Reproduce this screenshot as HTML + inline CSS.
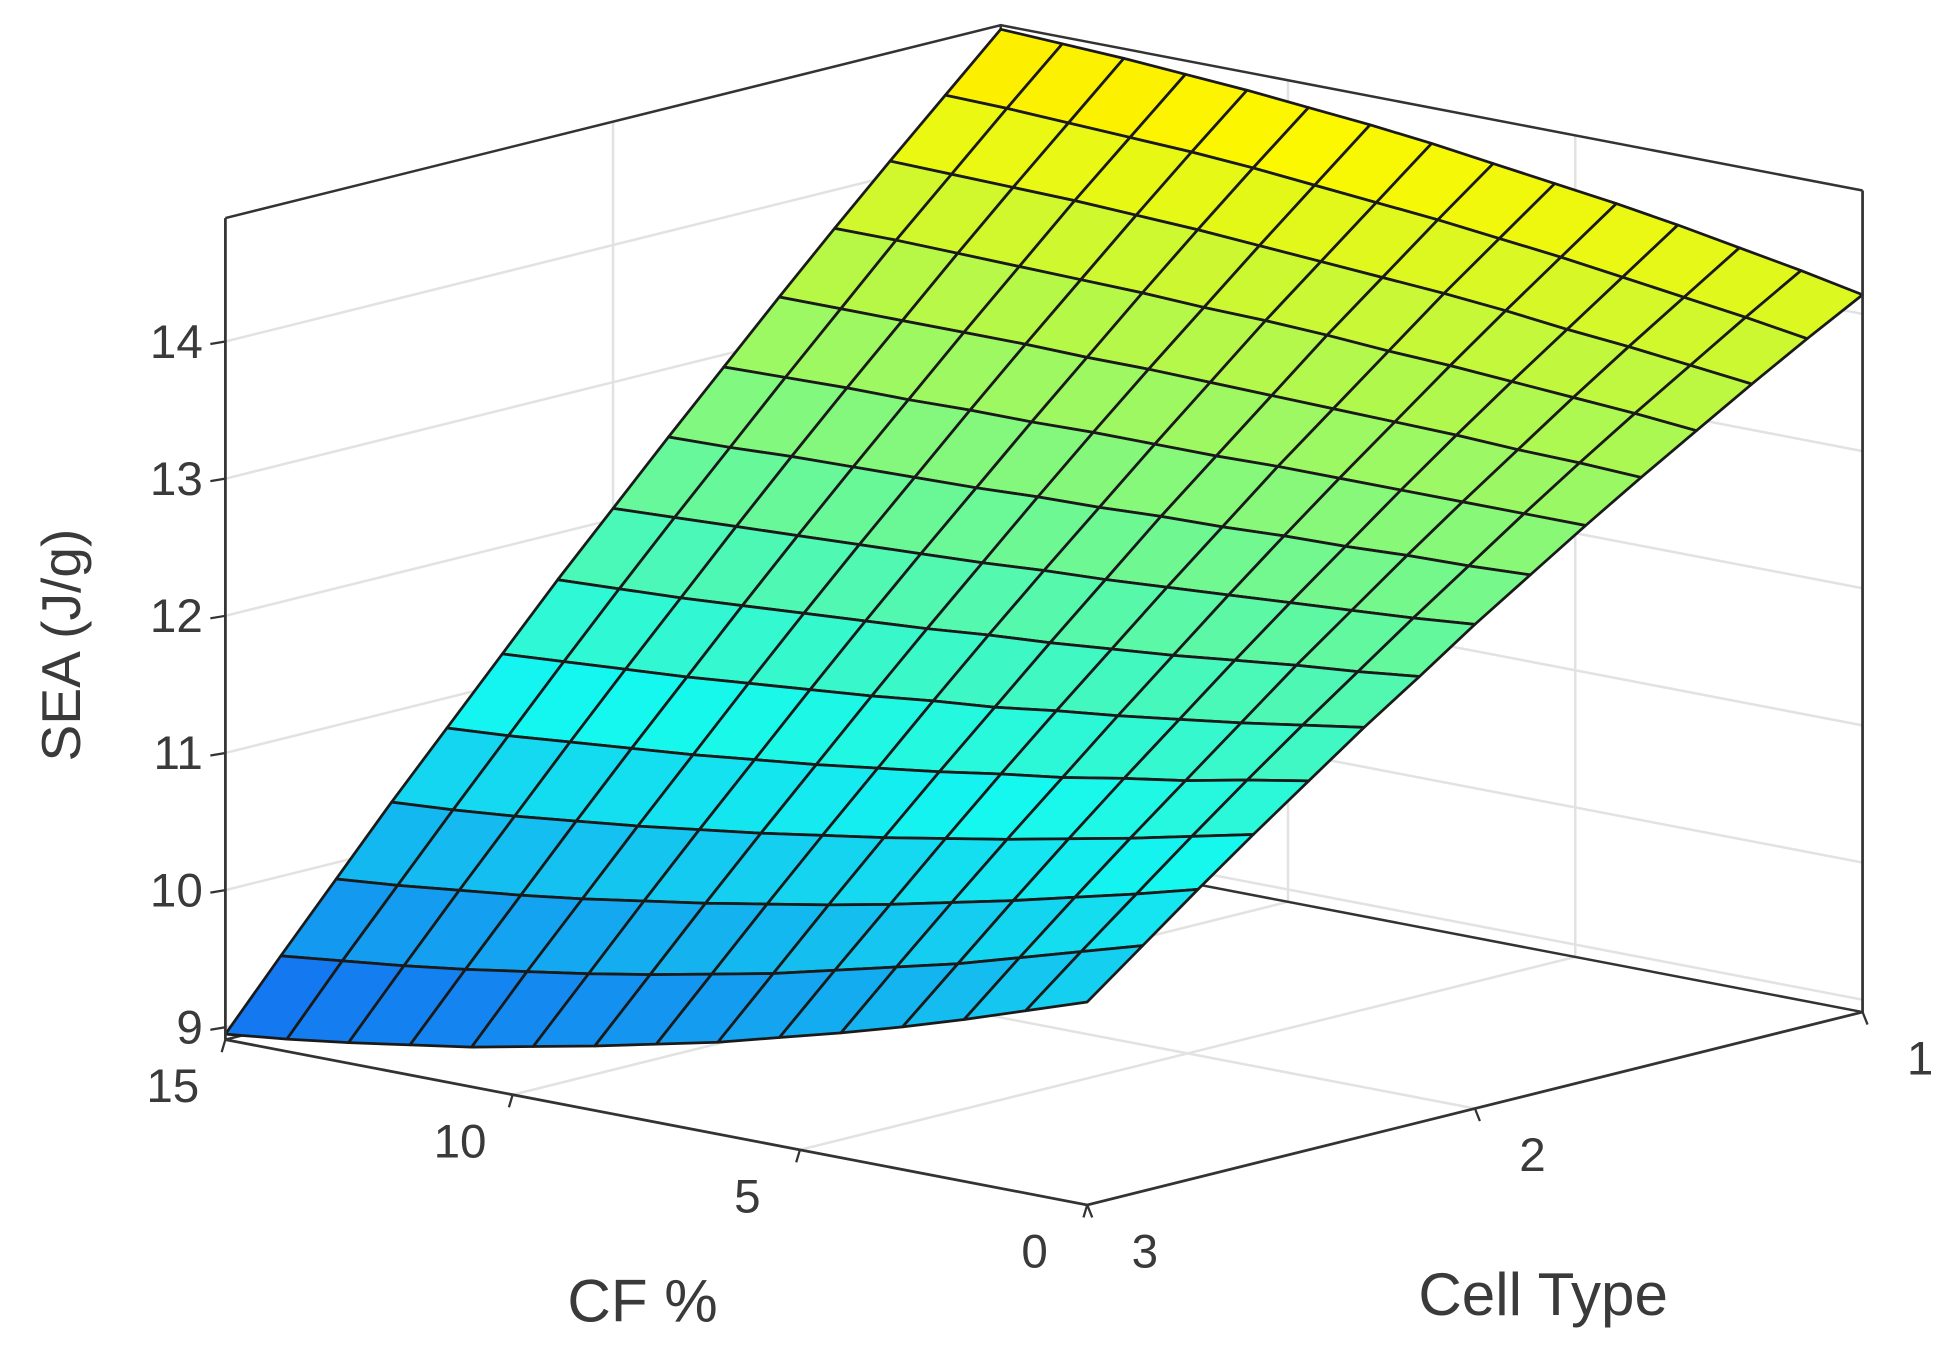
<!DOCTYPE html>
<html>
<head>
<meta charset="utf-8">
<style>
html,body{margin:0;padding:0;background:#fff;}
svg{display:block;}
text{font-family:"Liberation Sans",Arial,sans-serif;fill:#3a3a3a;}
</style>
</head>
<body>
<svg id="chart" width="1954" height="1354" viewBox="0 0 1560 1081" preserveAspectRatio="none" xmlns="http://www.w3.org/2000/svg">
  <g id="walls"></g>
  <g id="surface"></g>
  <g id="frame"></g>
  <g id="labels">
    <text x="513" y="1055" font-size="48" text-anchor="middle">CF %</text>
    <text x="1232" y="1050" font-size="48" text-anchor="middle">Cell Type</text>
    <text x="64" y="515" font-size="44" text-anchor="middle" transform="rotate(-90 64 515)">SEA (J/g)</text>
  </g>
</svg>
<script>
// ---- data ----
const cfValues = [0,1.0714,2.1429,3.2143,4.2857,5.3571,6.4286,7.5,8.5714,9.6429,10.7143,11.7857,12.8571,13.9286,15];
const cellValues = [3,2.8571,2.7143,2.5714,2.4286,2.2857,2.1429,2,1.8571,1.7143,1.5714,1.4286,1.2857,1.1429,1];
const seaRow0  = [10.39,10.24,10.09,9.95,9.82,9.70,9.58,9.48,9.38,9.29,9.20,9.13,9.06,9.00,8.95];
const seaRow1  = [10.70,10.57,10.44,10.31,10.20,10.09,9.98,9.89,9.80,9.72,9.65,9.58,9.52,9.47,9.42];
const seaRow2  = [11.01,10.89,10.78,10.67,10.57,10.47,10.38,10.30,10.22,10.15,10.08,10.02,9.97,9.92,9.88];
const seaRow3  = [11.31,11.21,11.11,11.02,10.93,10.85,10.77,10.70,10.63,10.57,10.51,10.46,10.41,10.37,10.34];
const seaRow4  = [11.60,11.52,11.43,11.36,11.28,11.22,11.15,11.09,11.03,10.98,10.93,10.89,10.85,10.81,10.78];
const seaRow5  = [11.89,11.82,11.75,11.69,11.63,11.58,11.52,11.48,11.43,11.39,11.35,11.31,11.28,11.25,11.22];
const seaRow6  = [12.16,12.11,12.07,12.02,11.97,11.93,11.89,11.86,11.82,11.79,11.76,11.73,11.70,11.68,11.66];
const seaRow7  = [12.44,12.40,12.37,12.34,12.31,12.28,12.25,12.23,12.20,12.18,12.16,12.14,12.12,12.10,12.08];
const seaRow8  = [12.70,12.68,12.67,12.65,12.64,12.62,12.61,12.59,12.58,12.56,12.55,12.54,12.53,12.51,12.50];
const seaRow9  = [12.96,12.96,12.96,12.96,12.96,12.96,12.95,12.95,12.95,12.94,12.94,12.93,12.93,12.92,12.91];
const seaRow10 = [13.21,13.23,13.24,13.26,13.27,13.28,13.29,13.30,13.31,13.31,13.32,13.32,13.32,13.32,13.32];
const seaRow11 = [13.45,13.49,13.52,13.55,13.58,13.60,13.63,13.65,13.66,13.68,13.69,13.70,13.71,13.72,13.72];
const seaRow12 = [13.69,13.74,13.79,13.83,13.88,13.92,13.95,13.98,14.01,14.04,14.06,14.08,14.09,14.10,14.11];
const seaRow13 = [13.92,13.99,14.05,14.11,14.17,14.22,14.27,14.31,14.35,14.39,14.42,14.44,14.46,14.48,14.49];
const seaRow14 = [14.14,14.23,14.31,14.39,14.46,14.52,14.58,14.64,14.69,14.73,14.77,14.80,14.83,14.85,14.87];
const zTicks = [9,10,11,12,13,14];
const cfTicks = [0,5,10,15];
const cellTicks = [1,2,3];
const zMin = 8.91, zMax = 14.9;

const seaGrid = [seaRow0,seaRow1,seaRow2,seaRow3,seaRow4,seaRow5,seaRow6,seaRow7,seaRow8,seaRow9,seaRow10,seaRow11,seaRow12,seaRow13,seaRow14];

// ---- projection ----
function P(cf, cell, z){
  const t = 3 - cell;
  return [868 - 45.87*cf + 309.5*t, 962 - 8.8*cf - 77*t - (z - zMin)*109.5];
}
const NS = "http://www.w3.org/2000/svg";
function mk(tag, attrs, parent){
  const e = document.createElementNS(NS, tag);
  for (const k in attrs) e.setAttribute(k, attrs[k]);
  parent.appendChild(e);
  return e;
}
function pts(arr){ return arr.map(p => p[0].toFixed(2)+","+p[1].toFixed(2)).join(" "); }
function jet(x){
  const c = v => Math.max(0, Math.min(1, v));
  const r = c(Math.min(4*x-1.5, -4*x+4.5));
  const g = c(Math.min(4*x-0.5, -4*x+3.5));
  const b = c(Math.min(4*x+0.5, -4*x+2.5));
  return "rgb("+Math.round(20+r*232)+","+Math.round(10+g*238)+","+Math.round(b*240)+")";
}

const walls = document.getElementById('walls');
const surf = document.getElementById('surface');
const frame = document.getElementById('frame');
const labels = document.getElementById('labels');
const gridCol = "#e2e2e2";

zTicks.forEach(z => {
  const a = P(15,3,z), b = P(15,1,z), c = P(0,1,z);
  const l = mk('polyline', {points: pts([a,b,c]), fill:'none', stroke:gridCol, 'stroke-width':2}, walls);
  
  
});
cellTicks.forEach(cl => {
  if (cl === 1 || cl === 3) return;
  const l = mk('polyline', {points: pts([P(0,cl,zMin), P(15,cl,zMin), P(15,cl,zMax)]), fill:'none', stroke:gridCol, 'stroke-width':2}, walls);
  
  
});
cfTicks.forEach(cf => {
  if (cf === 0 || cf === 15) return;
  const l = mk('polyline', {points: pts([P(cf,3,zMin), P(cf,1,zMin), P(cf,1,zMax)]), fill:'none', stroke:gridCol, 'stroke-width':2}, walls);
  
  
});
const backEdges = [
  [P(15,3,zMax), P(15,1,zMax), P(0,1,zMax)],
  [P(15,3,zMin), P(15,1,zMin), P(0,1,zMin)],
  [P(15,1,zMin), P(15,1,zMax)]
];
backEdges.forEach((e, k) => {
  const l = mk('polyline', {points: pts(e), fill:'none', stroke:'#333', 'stroke-width':2}, walls);
  
  
});

const patches = [];
for (let i = 0; i < cellValues.length - 1; i++){
  for (let j = 0; j < cfValues.length - 1; j++){
    const z00 = seaGrid[i][j], z01 = seaGrid[i][j+1], z10 = seaGrid[i+1][j], z11 = seaGrid[i+1][j+1];
    const corners = [P(cfValues[j],cellValues[i],z00), P(cfValues[j+1],cellValues[i],z01),
                     P(cfValues[j+1],cellValues[i+1],z11), P(cfValues[j],cellValues[i+1],z10)];
    const zAvg = (z00+z01+z10+z11)/4;
    const depth = (cfValues[j]+cfValues[j+1])/30 + ((3-cellValues[i])+(3-cellValues[i+1]))/4;
    patches.push({i, j, corners, zAvg, depth});
  }
}
patches.sort((a,b) => b.depth - a.depth);
patches.forEach(p => {
  const t = (p.zAvg - zMin)/(zMax - zMin);
  const poly = mk('polygon', {points: pts(p.corners), fill: jet(0.22 + t*0.43), stroke:'#1a1a1a', 'stroke-width':2.2, 'stroke-linejoin':'round'}, surf);
  
  
});

const frontEdges = [
  [P(15,3,zMin), P(15,3,zMax)],
  [P(15,3,zMin), P(0,3,zMin), P(0,1,zMin), P(0,1,zMax)]
];
frontEdges.forEach((e, k) => {
  const l = mk('polyline', {points: pts(e), fill:'none', stroke:'#333', 'stroke-width':2.2}, frame);
  
  
});

zTicks.forEach(z => {
  const p = P(15,3,z);
  const tk = mk('line', {x1:p[0], y1:p[1], x2:p[0]-12, y2:p[1]+2, stroke:'#333', 'stroke-width':1.8}, frame);
  
  
  const tx = mk('text', {x:p[0]-18, y:p[1]+13, 'font-size':38, 'text-anchor':'end'}, labels);
  tx.textContent = z;
  
  
});
cfTicks.forEach(cf => {
  const p = P(cf,3,zMin);
  const tk = mk('line', {x1:p[0], y1:p[1], x2:p[0]-3, y2:p[1]+10, stroke:'#333', 'stroke-width':1.8}, frame);
  
  
  const tx = mk('text', {x:p[0]-42, y:p[1]+50, 'font-size':38, 'text-anchor':'middle'}, labels);
  tx.textContent = cf;
  
  
});
cellTicks.forEach(cl => {
  const p = P(0,cl,zMin);
  const tk = mk('line', {x1:p[0], y1:p[1], x2:p[0]+4, y2:p[1]+10, stroke:'#333', 'stroke-width':1.8}, frame);
  
  
  const tx = mk('text', {x:p[0]+46, y:p[1]+50, 'font-size':38, 'text-anchor':'middle'}, labels);
  tx.textContent = cl;
  
  
});
</script>
</body>
</html>
